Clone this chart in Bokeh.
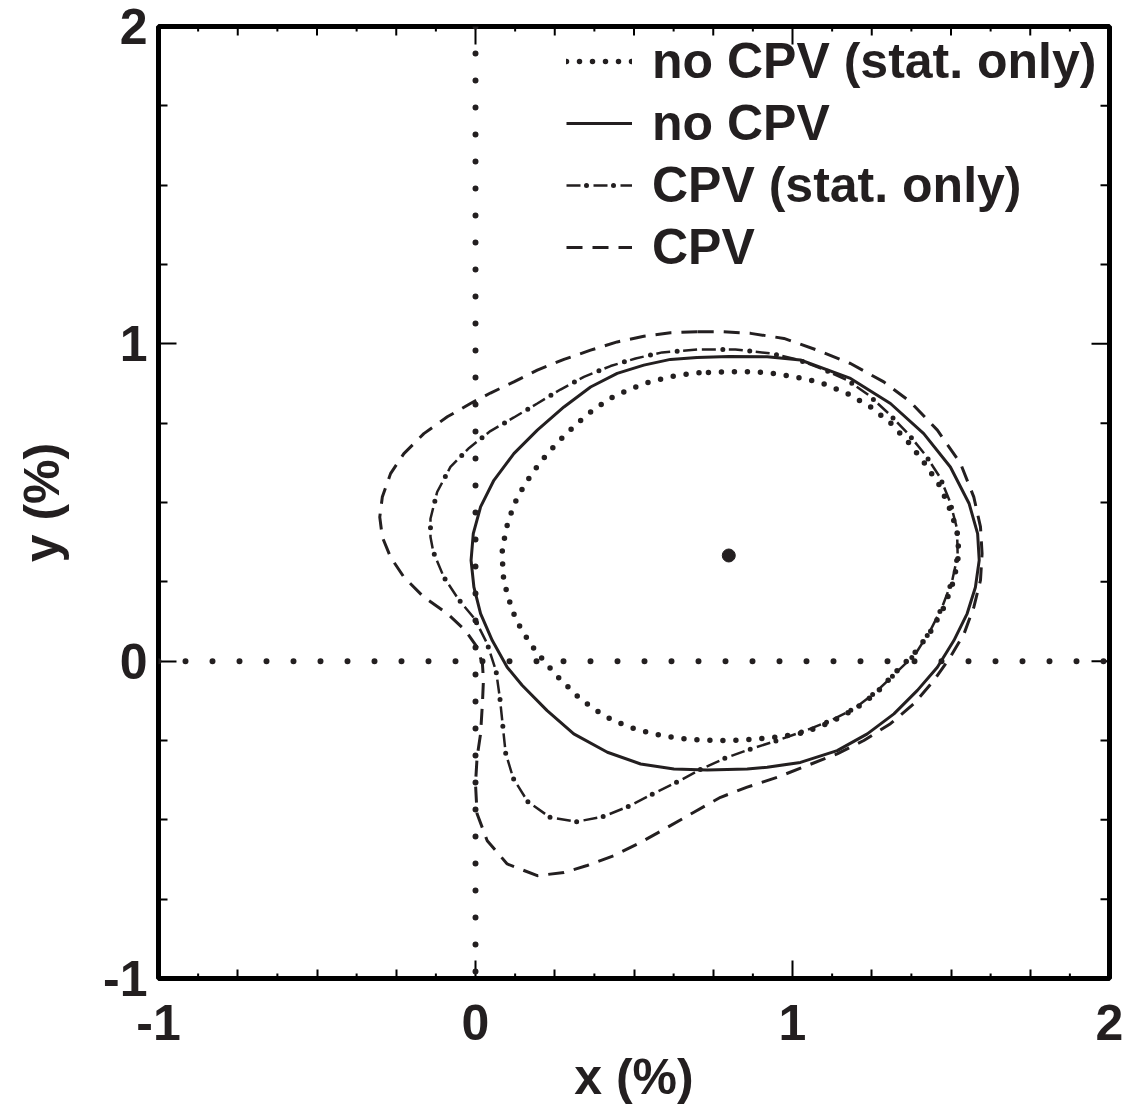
from bokeh.plotting import figure
from bokeh.models import FixedTicker, Span, Legend, LegendItem
from bokeh.embed import file_html
from bokeh.resources import INLINE

# ---- contour data: x (%) and y (%) ----
# no CPV, statistical uncertainty only (dotted)
nocpv_stat_x = [0.705, 0.666, 0.622, 0.581, 0.539, 0.500, 0.460, 0.421, 0.386, 0.352, 0.321, 0.287,
                0.258, 0.229, 0.202, 0.176, 0.153, 0.131, 0.115, 0.100, 0.091, 0.084, 0.086, 0.089,
                0.100, 0.113, 0.129, 0.149, 0.172, 0.197, 0.224, 0.252, 0.282, 0.313, 0.346, 0.382,
                0.418, 0.457, 0.497, 0.538, 0.580, 0.622, 0.665, 0.708, 0.751, 0.794, 0.836, 0.878,
                0.920, 0.962, 1.041, 1.120, 1.199, 1.267, 1.325, 1.383, 1.435, 1.478, 1.509, 1.525,
                1.519, 1.498, 1.467, 1.420, 1.371, 1.309, 1.244, 1.170, 1.090, 1.048, 1.004, 0.962,
                0.920, 0.878, 0.790, 0.705]
nocpv_stat_y = [0.909, 0.904, 0.898, 0.888, 0.877, 0.862, 0.845, 0.826, 0.801, 0.777, 0.749, 0.717,
                0.688, 0.656, 0.623, 0.588, 0.552, 0.514, 0.475, 0.428, 0.386, 0.344, 0.297, 0.255,
                0.213, 0.170, 0.128, 0.094, 0.057, 0.023, -0.008, -0.042, -0.071, -0.103, -0.130, -0.156,
                -0.178, -0.196, -0.211, -0.223, -0.233, -0.240, -0.245, -0.248, -0.250, -0.250, -0.249, -0.246,
                -0.242, -0.238, -0.224, -0.192, -0.150, -0.098, -0.035, 0.023, 0.092, 0.170, 0.255, 0.339,
                0.412, 0.475, 0.549, 0.619, 0.684, 0.751, 0.803, 0.845, 0.877, 0.888, 0.896, 0.904,
                0.909, 0.912, 0.912, 0.909]

# no CPV, total uncertainty (solid)
nocpv_x = [0.699, 0.615, 0.531, 0.447, 0.363, 0.279, 0.195, 0.121, 0.058, 0.016, -0.007, -0.014,
           -0.005, 0.016, 0.053, 0.100, 0.147, 0.226, 0.310, 0.416, 0.521, 0.626, 0.731, 0.857,
           0.920, 1.025, 1.141, 1.236, 1.320, 1.394, 1.457, 1.509, 1.551, 1.577, 1.589, 1.584,
           1.557, 1.498, 1.414, 1.309, 1.183, 1.025, 0.920, 0.800, 0.699]
nocpv_y = [0.957, 0.951, 0.933, 0.907, 0.864, 0.801, 0.728, 0.654, 0.570, 0.486, 0.402, 0.318,
           0.233, 0.150, 0.065, -0.019, -0.076, -0.156, -0.229, -0.287, -0.324, -0.340, -0.343, -0.340,
           -0.334, -0.319, -0.282, -0.229, -0.166, -0.092, -0.019, 0.065, 0.150, 0.233, 0.318, 0.402,
           0.497, 0.612, 0.717, 0.812, 0.891, 0.949, 0.959, 0.960, 0.957]

# CPV allowed, statistical uncertainty only (dash-dot)
cpv_stat_x = [0.699, 0.589, 0.505, 0.426, 0.342, 0.268, 0.195, 0.121, 0.047, -0.020, -0.079, -0.121,
              -0.142, -0.142, -0.133, -0.100, -0.053, -0.003, 0.037, 0.065, 0.077, 0.086, 0.095, 0.119,
              0.165, 0.235, 0.318, 0.402, 0.482, 0.560, 0.634, 0.712, 0.789, 0.870, 0.952, 1.041,
              1.120, 1.194, 1.262, 1.325, 1.388, 1.435, 1.472, 1.504, 1.521, 1.519, 1.497, 1.465,
              1.420, 1.367, 1.307, 1.241, 1.172, 1.099, 1.015, 0.931, 0.820, 0.699]
cpv_stat_y = [0.982, 0.973, 0.954, 0.930, 0.896, 0.856, 0.812, 0.768, 0.725, 0.672, 0.612, 0.533,
              0.449, 0.391, 0.344, 0.265, 0.194, 0.134, 0.055, -0.032, -0.117, -0.203, -0.289, -0.369,
              -0.443, -0.492, -0.506, -0.490, -0.458, -0.418, -0.382, -0.340, -0.305, -0.276, -0.250, -0.219,
              -0.187, -0.150, -0.098, -0.038, 0.023, 0.097, 0.170, 0.255, 0.333, 0.418, 0.502, 0.580,
              0.649, 0.714, 0.777, 0.838, 0.886, 0.919, 0.951, 0.970, 0.982, 0.982]

# CPV allowed, total uncertainty (dashed)
cpv_x = [0.700, 0.615, 0.531, 0.447, 0.363, 0.279, 0.195, 0.121, 0.047, -0.016, -0.089, -0.163,
         -0.226, -0.268, -0.294, -0.302, -0.294, -0.268, -0.226, -0.163, -0.089, -0.032, 0.005, 0.022,
         0.025, 0.022, 0.016, 0.005, 0.000, 0.005, 0.037, 0.100, 0.195, 0.279, 0.352, 0.436,
         0.521, 0.605, 0.689, 0.773, 0.857, 0.952, 1.046, 1.141, 1.225, 1.309, 1.383, 1.446,
         1.498, 1.541, 1.572, 1.593, 1.598, 1.593, 1.572, 1.530, 1.457, 1.372, 1.288, 1.183,
         1.078, 0.973, 0.868, 0.780, 0.700]
cpv_y = [1.038, 1.035, 1.024, 1.006, 0.980, 0.951, 0.917, 0.880, 0.845, 0.812, 0.770, 0.717,
         0.654, 0.591, 0.517, 0.454, 0.391, 0.328, 0.265, 0.202, 0.150, 0.097, 0.044, -0.010,
         -0.060, -0.130, -0.229, -0.303, -0.387, -0.481, -0.566, -0.639, -0.676, -0.666, -0.644, -0.613,
         -0.571, -0.524, -0.476, -0.429, -0.397, -0.366, -0.329, -0.292, -0.250, -0.197, -0.134, -0.061,
         0.013, 0.086, 0.170, 0.255, 0.339, 0.423, 0.517, 0.623, 0.728, 0.817, 0.880, 0.938,
         0.980, 1.017, 1.033, 1.038, 1.038]

# best-fit point
best_x = [0.799]
best_y = [0.333]

legend_labels = ["no CPV (stat. only)", "no CPV", "CPV (stat. only)", "CPV"]

# ---- axis ticks ----
major_ticks = [-1, 0, 1, 2]
quarter_ticks = [-0.75, -0.5, -0.25, 0.25, 0.5, 0.75, 1.25, 1.5, 1.75]
eighth_ticks = [-0.875, -0.625, -0.375, -0.125, 0.125, 0.375, 0.625, 0.875,
                1.125, 1.375, 1.625, 1.875]
tick_text = {-1: "-1", 0: "0", 1: "1", 2: "2"}

FONT = "Liberation Sans"
FS = "50px"
INK = "#231f20"

p = figure(width=1143, height=1109, x_range=(-1, 2), y_range=(-1, 2),
           output_backend="svg", toolbar_location=None,
           min_border_left=158, min_border_right=34, min_border_top=26, min_border_bottom=131)
p.grid.visible = False
p.background_fill_color = "white"
p.border_fill_color = "white"
p.outline_line_color = "black"
p.outline_line_width = 5

ticker = FixedTicker(ticks=major_ticks, minor_ticks=quarter_ticks)

for ax in (p.xaxis[0], p.yaxis[0]):
    ax.ticker = ticker
    ax.major_label_overrides = tick_text
    ax.axis_line_color = None
    ax.major_tick_in = 18
    ax.major_tick_out = 0
    ax.minor_tick_in = 9
    ax.minor_tick_out = 0
    ax.major_tick_line_width = 2
    ax.minor_tick_line_width = 2
    ax.major_tick_line_color = "black"
    ax.minor_tick_line_color = "black"
    ax.major_label_text_font = FONT
    ax.major_label_text_font_size = FS
    ax.major_label_text_font_style = "bold"
    ax.major_label_text_color = INK
    ax.axis_label_text_font = FONT
    ax.axis_label_text_font_size = FS
    ax.axis_label_text_font_style = "bold"
    ax.axis_label_text_color = INK

p.xaxis[0].axis_label = "x (%)"
p.yaxis[0].axis_label = "y (%)"
p.xaxis[0].major_label_standoff = 26
p.xaxis[0].axis_label_standoff = 6
p.yaxis[0].major_label_standoff = 11
p.yaxis[0].axis_label_standoff = 30

# tick marks on the top and right edges, and the finest x divisions
px_per_unit = 952 / 3.0
L_major, L_quarter, L_eighth = 18 / px_per_unit, 9 / px_per_unit, 5 / px_per_unit


def ticks_x(xs, y_edge, length):
    n = len(xs)
    p.segment(x0=xs, y0=[y_edge] * n, x1=xs, y1=[y_edge + length] * n,
              line_color="black", line_width=2)


def ticks_y(ys, x_edge, length):
    n = len(ys)
    p.segment(x0=[x_edge] * n, y0=ys, x1=[x_edge + length] * n, y1=ys,
              line_color="black", line_width=2)


ticks_x(eighth_ticks, -1, L_eighth)
ticks_x(major_ticks[1:-1], 2, -L_major)
ticks_x(quarter_ticks, 2, -L_quarter)
ticks_x(eighth_ticks, 2, -L_eighth)
ticks_y(major_ticks[1:-1], 2, -L_major)
ticks_y(quarter_ticks, 2, -L_quarter)

# dotted reference lines through x = 0 and y = 0
for dim in ("height", "width"):
    p.add_layout(Span(location=0, dimension=dim, line_color=INK, line_width=6,
                      line_dash="0 27", line_cap="round"))

r_dot = p.line(nocpv_stat_x, nocpv_stat_y, line_color=INK, line_width=5.5,
               line_dash="0 13", line_cap="round")
r_solid = p.line(nocpv_x, nocpv_y, line_color=INK, line_width=3)
r_dd_a = p.line(cpv_stat_x, cpv_stat_y, line_color=INK, line_width=2.5,
                line_dash="14 13")
r_dd_b = p.line(cpv_stat_x, cpv_stat_y, line_color=INK, line_width=5,
                line_dash="0 27", line_dash_offset=7, line_cap="round")
r_dash = p.line(cpv_x, cpv_y, line_color=INK, line_width=3, line_dash="16 10")

p.scatter(best_x, best_y, size=13, color=INK)

legend = Legend(
    items=[LegendItem(label=legend_labels[0], renderers=[r_dot]),
           LegendItem(label=legend_labels[1], renderers=[r_solid]),
           LegendItem(label=legend_labels[2], renderers=[r_dd_a, r_dd_b]),
           LegendItem(label=legend_labels[3], renderers=[r_dash])],
    location=(408, 702), orientation="vertical",
    glyph_width=66, glyph_height=56, label_height=56, label_width=100,
    spacing=4, padding=0, margin=0, label_standoff=20,
    border_line_color=None, background_fill_alpha=0,
    label_text_font=FONT, label_text_font_size=FS, label_text_font_style="bold",
    label_text_color=INK,
)
p.add_layout(legend)

open("out.html", "w").write(file_html(p, INLINE))
